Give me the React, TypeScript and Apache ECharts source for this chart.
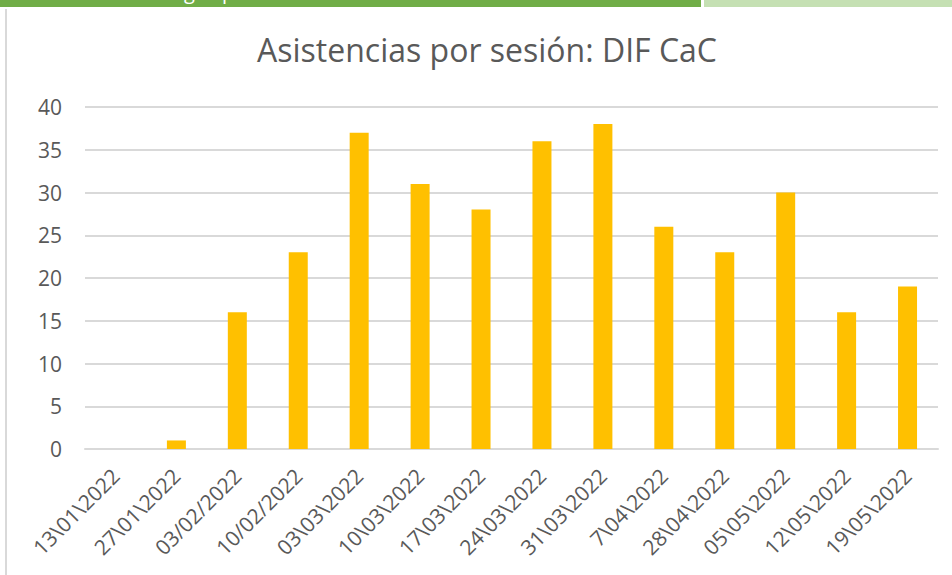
import React, { useEffect, useRef } from "react";
import * as echarts from "echarts";

const categories = [
  "13\\01\\2022", "27\\01\\2022", "03/02/2022", "10/02/2022", "03\\03\\2022",
  "10\\03\\2022", "17\\03\\2022", "24\\03\\2022", "31\\03\\2022", "7\\04\\2022",
  "28\\04\\2022", "05\\05\\2022", "12\\05\\2022", "19\\05\\2022",
];
const asistencias = [0, 1, 16, 23, 37, 31, 28, 36, 38, 26, 23, 30, 16, 19];
const titleText = "Asistencias por sesión: DIF CaC";

export default function App() {
  const ref = useRef<HTMLDivElement>(null);
  useEffect(() => {
    if (!ref.current) return;
    const chart = echarts.init(ref.current, null, { renderer: "svg" });
    const font = "'Open Sans', sans-serif";
    chart.setOption({
      animation: false,
      backgroundColor: "#ffffff",
      title: {
        text: titleText,
        left: 257,
        top: 33,
        itemGap: 0,
        padding: 0,
        textStyle: { fontFamily: font, fontSize: 32, fontWeight: "normal", color: "#595959" },
      },
      graphic: [
        { type: "rect", shape: { x: 0, y: 0, width: 701, height: 7 }, style: { fill: "#70AD47" } },
        { type: "rect", shape: { x: 704, y: 0, width: 248, height: 7 }, style: { fill: "#C5E0B3" } },
        { type: "rect", shape: { x: 5, y: 9, width: 2, height: 566 }, style: { fill: "#D9D9D9" } },
        { type: "text", x: 184, y: -19, style: { text: "g", fill: "#ffffff", fontFamily: font, fontSize: 20, verticalAlign: "top" } },
        { type: "text", x: 222, y: -19, style: { text: "p", fill: "#ffffff", fontFamily: font, fontSize: 20, verticalAlign: "top" } },
      ],
      grid: { left: 85, right: 14, top: 107, bottom: 126, containLabel: false },
      xAxis: {
        type: "category",
        data: categories,
        axisLine: { show: true, lineStyle: { color: "#D9D9D9", width: 2 } },
        axisTick: { show: false },
        axisLabel: {
          rotate: 45,
          interval: 0,
          margin: 23,
          color: "#595959",
          fontFamily: font,
          fontSize: 21,
        },
      },
      yAxis: {
        type: "value",
        min: 0,
        max: 40,
        interval: 5,
        axisLine: { show: false },
        axisTick: { show: false },
        splitLine: { lineStyle: { color: "#D9D9D9", width: 2 } },
        axisLabel: { margin: 23, color: "#595959", fontFamily: font, fontSize: 21 },
      },
      series: [
        {
          type: "bar",
          data: asistencias,
          barWidth: 19,
          itemStyle: { color: "#FFC000" },
        },
      ],
    });
    return () => chart.dispose();
  }, []);
  return (
    <div
      ref={ref}
      style={{ position: "absolute", left: 0, top: 0, width: 952, height: 575 }}
    />
  );
}
